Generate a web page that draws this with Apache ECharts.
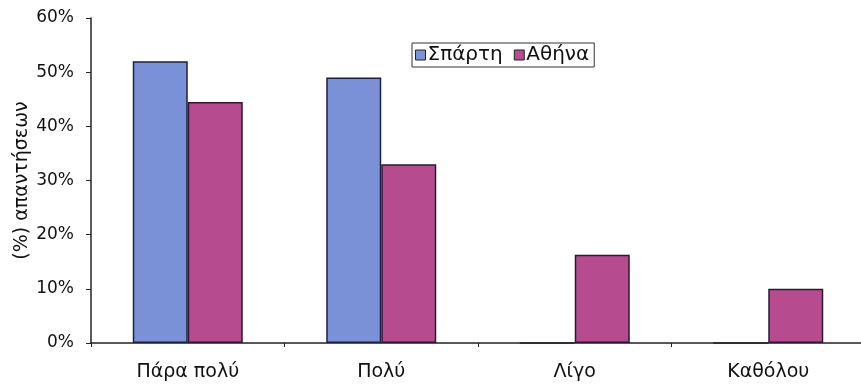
<!DOCTYPE html>
<html><head><meta charset="utf-8">
<script src="https://cdn.jsdelivr.net/npm/echarts@6/dist/echarts.min.js"></script>
<style>html,body{margin:0;padding:0;background:#fff}#c{width:861px;height:387px}</style>
</head><body><div id="c"></div>
<script>
var categories = ['Πάρα πολύ', 'Πολύ', 'Λίγο', 'Καθόλου'];
var sparta = [52, 49, 0, 0];
var athens = [44.5, 33, 16.3, 10];
var seriesNames = ['Σπάρτη', 'Αθήνα'];
var yTicks = [0, 10, 20, 30, 40, 50, 60];

var chart = echarts.init(document.getElementById('c'));
var font = '"DejaVu Sans", Verdana, sans-serif';
chart.setOption({
  backgroundColor: '#fff',
  animation: false,
  grid: { left: 91, width: 774, top: 18, bottom: 44, outerBoundsMode: 'none', containLabel: false },
  legend: {
    left: 412, top: 43,
    padding: [2, 5, 2, 3],
    itemGap: 11, itemWidth: 10, itemHeight: 10,
    borderColor: '#333', borderWidth: 1,
    icon: 'rect',
    itemStyle: { borderColor: '#222', borderWidth: 1 },
    textStyle: { fontFamily: font, fontSize: 20, color: '#111', padding: [0, 0, 0, -3] },
    data: seriesNames
  },
  xAxis: {
    type: 'category', data: categories,
    axisLine: { lineStyle: { color: '#222', width: 1.5 } },
    axisTick: { show: true, length: 4, lineStyle: { color: '#222' } },
    axisLabel: { fontFamily: font, fontSize: 19, color: '#111', margin: 20 }
  },
  yAxis: {
    type: 'value', min: 0, max: 60, interval: 10,
    name: '(%) απαντήσεων', nameLocation: 'middle', nameGap: 59, nameMoveOverlap: false,
    nameTextStyle: { fontFamily: font, fontSize: 19, color: '#111' },
    axisLine: { show: true, lineStyle: { color: '#222', width: 1.5 } },
    axisTick: { show: true, length: 5, lineStyle: { color: '#222' } },
    splitLine: { show: false },
    axisLabel: { fontFamily: font, fontSize: 17, color: '#111', margin: 17,
      formatter: function (v) { return yTicks.indexOf(v) >= 0 ? v + '%' : ''; } }
  },
  series: [
    { name: seriesNames[0], type: 'bar', data: sparta, barWidth: 55, barGap: '0%',
      itemStyle: { color: '#7a91d8', borderColor: '#1e2040', borderWidth: 1.5 } },
    { name: seriesNames[1], type: 'bar', data: athens, barWidth: 55,
      itemStyle: { color: '#b64b90', borderColor: '#2a1a30', borderWidth: 1.5 } }
  ]
});
</script></body></html>
